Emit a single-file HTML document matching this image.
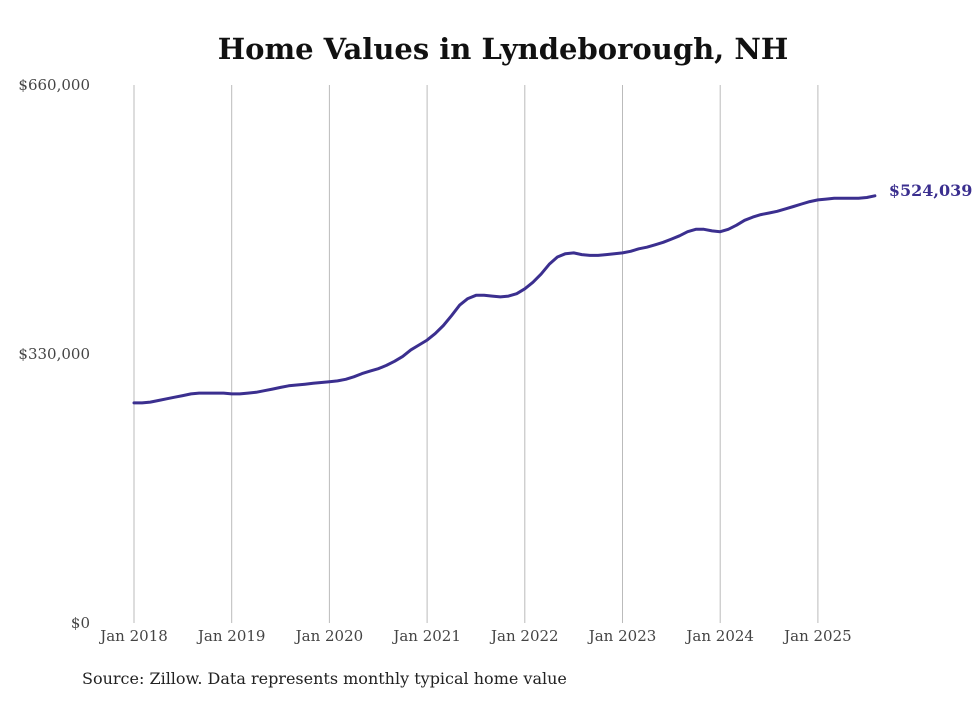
<!DOCTYPE html>
<html><head><meta charset="utf-8"><style>
body{margin:0;background:#fff;}
svg text{font-family:"DejaVu Serif","Liberation Serif",serif;}
</style></head><body>
<svg width="980" height="699" id="chart">
<text x="503" y="59" text-anchor="middle" font-size="29" font-weight="bold" fill="#111">Home Values in Lyndeborough, NH</text>
<g id="grid"></g><g id="yaxis"></g><g id="xaxis"></g><g id="series"></g>
<text x="82" y="684" font-size="16" fill="#222">Source: Zillow. Data represents monthly typical home value</text>
</svg>
<script>
const yTicks=[0,330000,660000];
const yTickLabels=["$0","$330,000","$660,000"];
const xYears=[2018,2019,2020,2021,2022,2023,2024,2025];
const xTickLabels=["Jan 2018","Jan 2019","Jan 2020","Jan 2021","Jan 2022","Jan 2023","Jan 2024","Jan 2025"];
const values=[
270,270,271,273,275,277,279,281,282,282,282,282,
281,281,282,283,285,287,289,291,292,293,294,295,
296,297,299,302,306,309,312,316,321,327,335,341,
347,355,365,377,390,398,402,402,401,400,401,404,
410,418,428,440,449,453,454,452,451,451,452,453,
454,456,459,461,464,467,471,475,480,483,483,481,
480,483,488,494,498,501,503,505,508,511,514,517,
519,520,521,521,521,521,522,524.039];
const lastLabel="$524,039";
const NS="http://www.w3.org/2000/svg";
const x0=134,pxYear=97.7,yB=623,yT=85;
const xs=m=>x0+m*pxYear/12;
const ys=v=>yB-(v/660000)*(yB-yT);
function mk(t,a,p){const e=document.createElementNS(NS,t);for(const k in a)e.setAttribute(k,a[k]);document.getElementById(p).appendChild(e);return e;}
yTicks.forEach((v,i)=>{
 const t=mk("text",{x:90,y:ys(v)+5,"text-anchor":"end","font-size":15,fill:"#444"},"yaxis");
 t.textContent=yTickLabels[i];
 
 
});
xYears.forEach((yr,i)=>{
 const x=xs((yr-2018)*12);
 const l=mk("line",{x1:x,x2:x,y1:yT,y2:yB,stroke:"#bbb","stroke-width":1},"grid");
 
 
 const t=mk("text",{x:x,y:641,"text-anchor":"middle","font-size":15,fill:"#444"},"xaxis");
 t.textContent=xTickLabels[i];
 
 
});
let d="";
values.forEach((v,i)=>{d+=(i?"L":"M")+xs(i).toFixed(1)+","+ys(v*1000).toFixed(1);});
const p=mk("path",{d:d,fill:"none",stroke:"#3b2f8f","stroke-width":3,"stroke-linejoin":"round","stroke-linecap":"round"},"series");


const li=values.length-1;
const lt=mk("text",{x:xs(li)+14,y:ys(values[li]*1000)+0,"font-size":16,"font-weight":"bold",fill:"#3b2f8f"},"series");
lt.textContent=lastLabel;


</script>
</body></html>
